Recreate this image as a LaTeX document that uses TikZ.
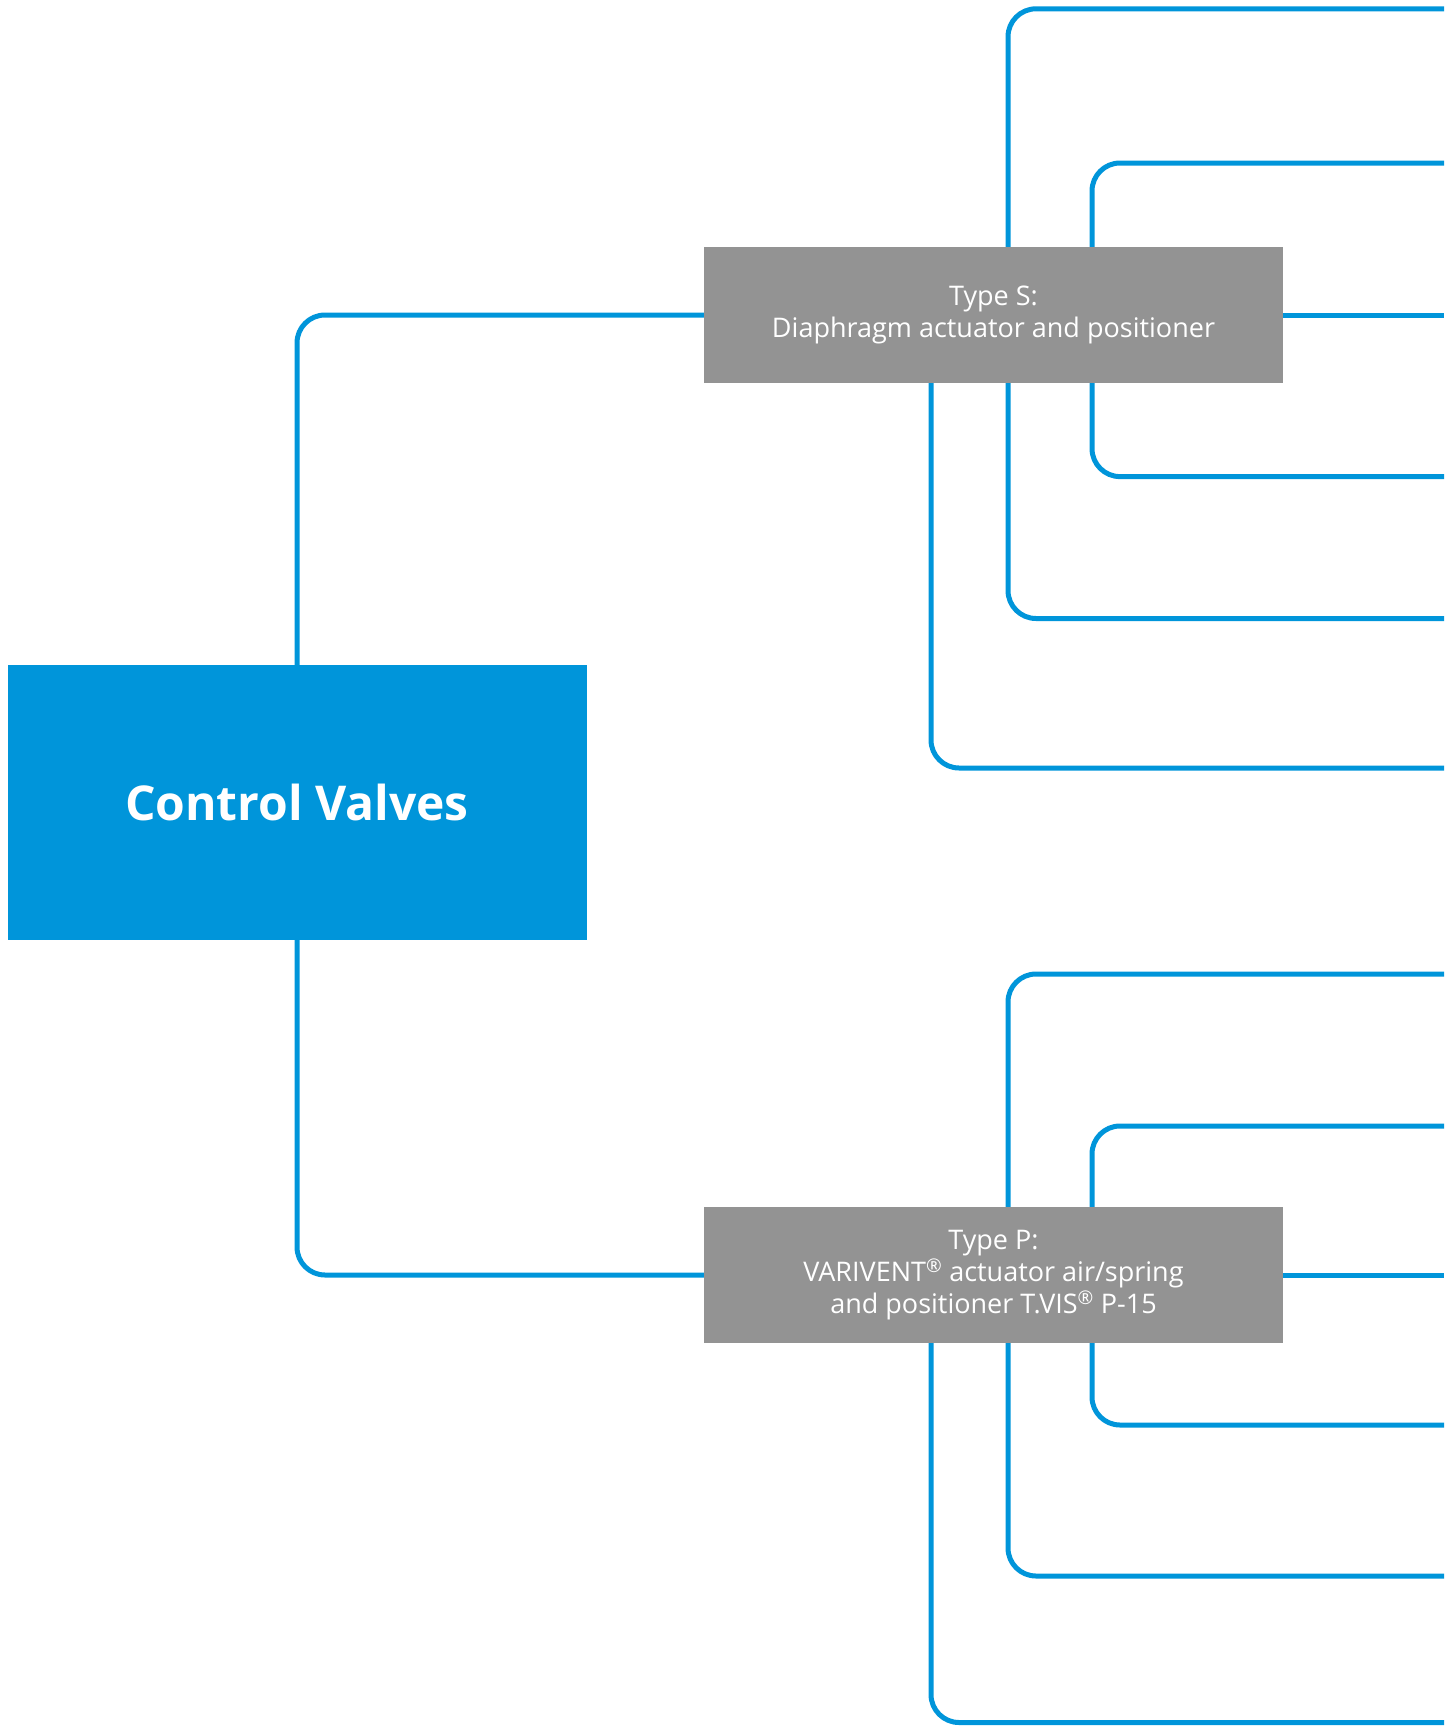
\documentclass[tikz,border=0pt]{standalone}
\usepackage{fontspec}
\setmainfont{Open Sans}
\usepackage{tikz}
\definecolor{valveblue}{RGB}{0,149,218}
\definecolor{valvegray}{RGB}{147,147,147}

\begin{document}
\begin{tikzpicture}[x=1pt,y=-1pt,
  hub/.style={fill=valveblue,text=white,inner sep=0pt,
    minimum width=579pt,minimum height=275pt,
    font=\bfseries\fontsize{48}{56}\selectfont},
  kind/.style={fill=valvegray,text=white,inner sep=0pt,align=center,
    minimum width=579pt,minimum height=136pt,
    font=\fontsize{27}{32}\selectfont,
    execute at begin node=\rule{0pt}{27pt}},
  link/.style={draw=valveblue,line width=5pt,rounded corners=28pt}]
\useasboundingbox (0,0) rectangle (1444,1726);
\node[hub] (valves) at (297,802.5) {Control Valves};
\node[kind] (typeS) at (993.5,315) {Type S:\\Diaphragm actuator and positioner};
\node[kind] (typeP) at (993.5,1275) {Type P:\\VARIVENT\textsuperscript{®} actuator air/spring\\and positioner T.VIS\textsuperscript{®} P-15};
% branch columns
\coordinate (colA) at (931,0);
\coordinate (colB) at (1008,0);
\coordinate (colC) at (1092,0);
% free ends at the right edge
\coordinate (s1) at (1444,8.8);
\coordinate (s2) at (1444,163);
\coordinate (s4) at (1444,476.6);
\coordinate (s5) at (1444,618.5);
\coordinate (s6) at (1444,768);
\coordinate (p1) at (1444,974);
\coordinate (p2) at (1444,1126);
\coordinate (p4) at (1444,1425);
\coordinate (p5) at (1444,1576);
\coordinate (p6) at (1444,1722.5);
\draw[link] (valves.north) |- (typeS.west);
\draw[link] (valves.south) |- (typeP.west);
\draw[link] (typeS.north -| colB) |- (s1);
\draw[link] (typeS.north -| colC) |- (s2);
\draw[link] (typeS.east) -- (typeS.east -| s1);
\draw[link] (typeS.south -| colC) |- (s4);
\draw[link] (typeS.south -| colB) |- (s5);
\draw[link] (typeS.south -| colA) |- (s6);
\draw[link] (typeP.north -| colB) |- (p1);
\draw[link] (typeP.north -| colC) |- (p2);
\draw[link] (typeP.east) -- (typeP.east -| p1);
\draw[link] (typeP.south -| colC) |- (p4);
\draw[link] (typeP.south -| colB) |- (p5);
\draw[link] (typeP.south -| colA) |- (p6);
\end{tikzpicture}
\end{document}
